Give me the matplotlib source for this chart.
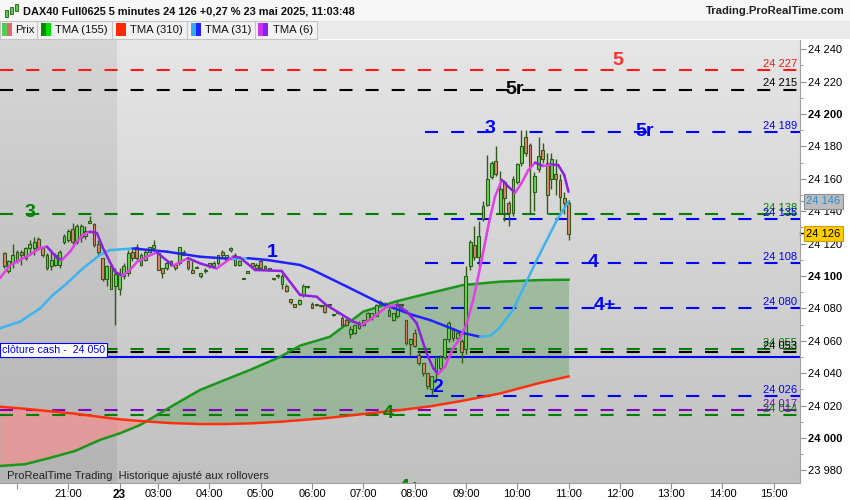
import numpy as np
import matplotlib.pyplot as plt
from matplotlib.patches import Rectangle
from matplotlib.collections import LineCollection
from matplotlib.colors import LinearSegmentedColormap
from matplotlib.transforms import blended_transform_factory

plt.rcParams['font.family'] = ['Liberation Sans', 'DejaVu Sans']
plt.rcParams['lines.scale_dashes'] = False

# 5 minute bars: 22 mai 19:45-21:55, then 23 mai from 02:15 to 11:00
opens = [24114, 24103, 24108, 24109, 24115, 24111, 24117, 24117, 24123, 24117,
         24113, 24106, 24107, 24107, 24121, 24122, 24129, 24121, 24124, 24125,
         24133, 24132, 24120, 24111, 24098, 24106, 24094,
         24092, 24100, 24102, 24115, 24118, 24107, 24110, 24115, 24117, 24114,
         24105, 24105, 24107, 24107, 24108, 24115, 24109, 24104, 24105, 24100,
         24103, 24108, 24106, 24108, 24115, 24110, 24116, 24113, 24107, 24098,
         24102, 24108, 24105, 24109, 24105, 24104, 24098, 24100, 24095, 24094,
         24086, 24083, 24083, 24088, 24093, 24083, 24082, 24081.5, 24082, 24082,
         24076, 24077, 24074, 24073, 24064, 24065, 24068, 24073, 24073, 24074,
         24075, 24083, 24083, 24079, 24073, 24075, 24082, 24073, 24058, 24065,
         24051, 24046, 24040, 24030, 24041, 24043, 24050, 24061, 24067, 24062,
         24060, 24055, 24106, 24119, 24112, 24135, 24144, 24161, 24171, 24139,
         24158, 24145, 24139, 24158, 24170, 24186, 24181, 24152, 24166, 24178,
         24170, 24160, 24163, 24159, 24148, 24145]
highs = [24115, 24110, 24120, 24116, 24116, 24118, 24122, 24124, 24124, 24118,
         24114, 24115, 24114, 24116, 24126, 24129, 24133, 24132, 24132, 24131,
         24137, 24133, 24122, 24111, 24107, 24108, 24105,
         24105, 24108, 24116, 24117, 24120, 24114, 24116, 24118, 24122, 24116,
         24105, 24110, 24110, 24108, 24118, 24116, 24110, 24109, 24106, 24102,
         24105, 24108, 24109, 24113, 24116, 24113, 24118, 24114, 24110, 24099,
         24103, 24108, 24108, 24110, 24107, 24105, 24098.5, 24101, 24101, 24095,
         24086, 24083, 24086, 24095, 24093.5, 24084, 24082.5, 24082, 24083, 24082.5,
         24076.5, 24077.5, 24075, 24074, 24069, 24070, 24072, 24073, 24078, 24077,
         24083, 24085, 24084, 24080, 24077, 24084, 24083, 24073, 24062, 24067,
         24054, 24046, 24040, 24038, 24050, 24051, 24061, 24072, 24068, 24066,
         24061, 24106, 24122, 24131, 24134, 24146, 24175, 24171, 24180, 24165,
         24159, 24146, 24162, 24170, 24190, 24190, 24182, 24164, 24186, 24182,
         24176, 24176, 24172, 24163, 24152, 24147]
lows = [24105, 24102, 24105, 24108, 24107, 24110, 24113, 24113, 24116, 24112,
        24104, 24104, 24106, 24105, 24120, 24121, 24120, 24120, 24121, 24123,
        24133, 24118, 24113, 24097, 24094, 24092, 24070,
        24088, 24098, 24100, 24109, 24110, 24106, 24109, 24114, 24116, 24104,
        24099, 24104, 24106, 24104, 24107, 24113, 24104, 24102, 24105, 24099,
        24102, 24105, 24105, 24107, 24112, 24109, 24115, 24106, 24106, 24098,
        24102, 24105, 24104, 24105, 24104, 24103, 24097.5, 24099, 24092, 24090,
        24083, 24081, 24082, 24087, 24092.5, 24080, 24081.5, 24081, 24077, 24081.5,
        24075.5, 24076.5, 24069, 24069, 24062, 24064, 24067, 24069, 24073, 24073,
        24075, 24082, 24081, 24075, 24072, 24074, 24081, 24057.5, 24051, 24056,
        24045, 24038, 24030, 24026.5, 24036, 24042, 24049, 24059, 24060, 24061,
        24046, 24052, 24104, 24110, 24106, 24134, 24143, 24160, 24162, 24138,
        24134, 24131, 24137, 24157, 24168, 24174, 24139, 24140, 24164, 24170,
        24138, 24154, 24150, 24140, 24138, 24122]
closes = [24106, 24109, 24113, 24115, 24113, 24117, 24120, 24121, 24117, 24113,
          24105, 24110, 24113, 24115, 24125, 24128, 24121, 24131, 24131, 24128,
          24134, 24119, 24115, 24098, 24106, 24092, 24101,
          24101, 24106, 24114, 24111, 24111, 24113, 24115, 24118, 24119, 24104,
          24102, 24108, 24109, 24105, 24118, 24113, 24105, 24102, 24105.5, 24102,
          24104, 24106, 24108, 24113, 24113, 24113, 24117, 24107, 24109, 24098.5,
          24102.5, 24106, 24107, 24105, 24106, 24104.5, 24098, 24100.5, 24100, 24091,
          24084, 24081, 24085, 24094, 24093, 24080, 24082, 24081.5, 24078, 24082,
          24076, 24077, 24070, 24070, 24067, 24070, 24071, 24070, 24077, 24077,
          24082, 24084, 24082, 24075, 24077, 24083, 24082.5, 24058.5, 24061, 24057,
          24046, 24040, 24032, 24038, 24050, 24050, 24061, 24071, 24062, 24065,
          24053, 24100, 24121, 24112, 24125, 24143, 24160, 24170, 24163, 24154,
          24148, 24139, 24160, 24169, 24180, 24176, 24168, 24162, 24174, 24172,
          24150, 24172, 24160, 24149, 24145, 24126]

# moving averages (bar index, price)
tma6_k = [-1, 1.4, 3.7, 6, 8.4, 10, 12.4, 13.5, 15.4, 17, 18.4, 20, 21.7, 23.1, 24.7,
          25.9, 27.6, 29.4, 31.1, 33.4, 35.7, 39.5, 43, 45.8, 49.7, 53.6, 55.2, 58.7,
          64.9, 69.2, 73.1, 75.4, 78.5, 81.7, 83.6, 86, 89.5, 91.8, 94.2, 96.5, 98.8,
          100.4, 101.5, 103.1, 105, 106.6, 108.2, 109.7, 111.7, 113.2, 114.8, 116.4,
          117.9, 119.5, 121, 122.6, 124.2, 126.1, 128.1, 129.6, 131, 132]
tma6 = [24098.6, 24106.8, 24109.9, 24113, 24117.3, 24118.1, 24111.1, 24109.9, 24115,
        24121.2, 24125.3, 24127.3, 24126.5, 24117.3, 24108.8, 24102.7, 24100.2, 24103.7,
        24108.8, 24111.9, 24114.6, 24106.4, 24111, 24107.8, 24104.7, 24112, 24111.3,
        24103.7, 24103.1, 24088.3, 24087.2, 24082, 24077, 24071.8, 24069.7, 24073.9,
        24081, 24082.1, 24078, 24070.8, 24052.3, 24043, 24039.5, 24044, 24055.4,
        24061.5, 24070.8, 24085.2, 24109.9, 24130.5, 24149, 24159.3, 24155.2, 24151.4,
        24157.2, 24165.4, 24170, 24167.9, 24168.9, 24168.5, 24162.4, 24152]

tma31_k = [-1, 3.7, 8.4, 11.4, 14.7, 18.4, 22.4, 24.7, 30.1, 38.1, 45.8, 53.5, 57,
           61.5, 69.2, 72.2, 80.2, 87.9, 95.6, 99.6, 103.6, 107.3, 111.3, 113.6, 115.9,
           119, 124.6, 129.3, 132]
tma31 = [24067.7, 24071.8, 24080, 24088.3, 24095.5, 24104.7, 24113, 24116, 24117,
         24115, 24111.9, 24110.5, 24111, 24109.9, 24106.8, 24103.7, 24093.4, 24083.3,
         24075.9, 24072.8, 24068.7, 24064.8, 24062.5, 24063, 24068, 24079, 24110,
         24134.6, 24146]

ma_k = [-1, 4.9, 10.7, 16.6, 22.4, 27.1, 31.8, 38.8, 45.8, 51.6, 57.5, 64.5, 69.2,
        76.2, 84, 91.9, 99.6, 107.3, 116, 125.3, 132]
tma155 = [23982.7, 23983.8, 23987.7, 23992, 23998.8, 24002.9, 24008, 24019, 24029.6,
          24035.8, 24042, 24050, 24057, 24062.5, 24078, 24084.5, 24089.5, 24094.4,
          24096.5, 24097.5, 24097.7]
tma310 = [24019.3, 24018, 24016.5, 24015, 24013, 24011.5, 24010.5, 24009.2, 24008.6,
          24008.6, 24009, 24010, 24011, 24012.5, 24014.8, 24017, 24019.5, 24023,
          24027.5, 24034, 24038]

# horizontal levels
levels = [24227, 24215, 24189, 24138, 24135, 24108, 24080, 24055, 24053, 24026, 24017, 24014]
level_colors = ['#ff1a1a', '#000000', '#0000ff', '#008000', '#0000ff', '#0000ff',
                '#0000ff', '#008000', '#000000', '#0000ff', '#8000c0', '#008000']
level_partial = [False, False, True, False, True, True, True, False, False, True, False, False]
cash_close = 24050

big_text = ['5', '5r', '3', '5r', '3', '1', '4', '4+', '2', '4', '4+']
big_colors = ['#ff3030', '#000000', '#0000ff', '#0000ff', '#008000', '#0000ff',
              '#0000ff', '#0000ff', '#0000ff', '#008000', '#008000']

tick_pos = [3, 15, 27, 36, 48, 60, 72, 84, 96, 108, 120, 132, 144, 156, 168, 180]
tick_labels = ['', '21:00', '23', '03:00', '04:00', '05:00', '06:00', '07:00', '08:00',
               '09:00', '10:00', '11:00', '12:00', '13:00', '14:00', '15:00']

W, H = 850, 500
fig = plt.figure(figsize=(W / 100, H / 100), dpi=100)
fig.patch.set_facecolor('white')
ax = fig.add_axes([0, 17 / H, 800 / W, 443 / H])

x0, x1 = -0.98, 186.15
y0, y1 = 23972.2, 24245.7
ax.set_xlim(x0, x1)
ax.set_ylim(y0, y1)

bg = LinearSegmentedColormap.from_list('bg', ['#c0c0c0', '#e6e6e6'])
ax.imshow(np.linspace(0, 1, 256).reshape(-1, 1), extent=[x0, x1, y0, y1],
          aspect='auto', origin='lower', cmap=bg, zorder=0)
ax.axvspan(x0, 26.5, color='black', alpha=0.065, lw=0, zorder=0.5)

# TMA 155 / 310 with fill
k = np.array(ma_k)
g = np.array(tma155)
r = np.array(tma310)
ax.fill_between(k, g, r, where=g >= r, interpolate=True, color='#6fa86f', alpha=0.5, lw=0, zorder=1)
ax.fill_between(k, g, r, where=g < r, interpolate=True, color='#ff8888', alpha=0.6, lw=0, zorder=1)

# levels
dash = (0, (9.4, 9.4))
for p, c, part in zip(levels, level_colors, level_partial):
    start = 98.4 if part else x0
    ax.plot([start, x1], [p, p], color=c, lw=1.5, ls=dash, zorder=2)
    ax.text(185.4, p + 0.8, f"{p // 1000} {p % 1000:03d}", color=c, fontsize=8,
            ha='right', va='bottom', zorder=7)
ax.axhline(cash_close, color='#0000ff', lw=1.5, zorder=2)

ax.plot(k, g, color='#1a961a', lw=1.8, zorder=3)
ax.plot(k, r, color='#ff3010', lw=1.8, zorder=3)

# candles
idx = np.arange(len(opens))
o = np.array(opens); c_ = np.array(closes)
ax.vlines(idx, lows, highs, color='#2d5a16', lw=1.0, zorder=4)
body_lo = np.minimum(o, c_)
body_h = np.maximum(np.abs(c_ - o), 0.8)
fills = ['#66d855' if cc >= oo else '#e8826e' for oo, cc in zip(o, c_)]
ax.bar(idx, body_h, bottom=body_lo, width=0.66, color=fills, edgecolor='#2d5a16',
       linewidth=0.8, zorder=5)


def slope_line(xs, ys, up, down):
    xs = np.asarray(xs, float)
    ys = np.asarray(ys, float)
    pts = np.column_stack([xs, ys])
    segs = np.stack([pts[:-1], pts[1:]], axis=1)
    cols = [up if b >= a else down for a, b in zip(ys[:-1], ys[1:])]
    ax.add_collection(LineCollection(segs, colors=cols, linewidths=1.8,
                                     capstyle='round', zorder=6))


slope_line(tma31_k, tma31, '#3cb4f0', '#2222ff')
slope_line(tma6_k, tma6, '#e040e8', '#9020e0')

# level names
big_pos = [(143.6, 24233), (119.5, 24215), (113.6, 24191), (149.9, 24189.5),
           (6.0, 24138.9), (62.6, 24114.8), (137.7, 24108.6), (140.5, 24082),
           (101.5, 24030.9), (89.8, 24014.8), (95.0, 23969.5)]
for s, col, (bx, by) in zip(big_text, big_colors, big_pos):
    ax.text(bx, by, s, color=col, fontsize=14, fontweight='bold', ha='center',
            va='center', zorder=8, clip_on=True)

ax.text(-0.55, 24054.3, 'clôture cash -  24 050', color='#0000ff', fontsize=7.7,
        ha='left', va='center', zorder=9,
        bbox=dict(boxstyle='square,pad=0.18', fc='white', ec='#0000ff', lw=0.8))
ax.text(0.0, 23976.8, ' ProRealTime Trading  Historique ajusté aux rollovers',
        color='#222222', fontsize=8, ha='left', va='center', zorder=9)

# axes
for sp in ['top', 'left']:
    ax.spines[sp].set_visible(False)
for sp in ['right', 'bottom']:
    ax.spines[sp].set_color('#a0a0a0')
ax.yaxis.tick_right()
yt = list(range(23980, 24241, 20))
ax.set_yticks(yt)
ax.set_yticklabels([f"{v // 1000} {v % 1000:03d}" for v in yt])
ax.set_yticks(list(range(23980, 24241, 10)), minor=True)
for lab, v in zip(ax.get_yticklabels(), yt):
    if v % 100 == 0:
        lab.set_fontweight('bold')
        lab.set_fontsize(8.5)
ax.tick_params(axis='y', which='major', length=4, pad=2, labelsize=8, color='#909090')
ax.tick_params(axis='y', which='minor', length=2.5, color='#909090')
ax.set_xticks(tick_pos)
ax.set_xticklabels(tick_labels)
ax.tick_params(axis='x', length=4, pad=0.5, labelsize=8, color='#909090')
for lab in ax.get_xticklabels():
    if lab.get_text() == '23':
        lab.set_fontweight('bold')
        lab.set_fontsize(8.5)

tr = blended_transform_factory(ax.transAxes, ax.transData)
ax.plot([1.0, 1.008], [24146, 24146], color='#40b0f0', lw=1, transform=tr, clip_on=False)
ax.plot([1.0, 1.008], [24126.6, 24126.6], color='black', lw=1, transform=tr, clip_on=False)
ax.text(1.0075, 24146, '24 146', transform=tr, fontsize=8, color='#2a88d0', ha='left',
        va='center', zorder=10, clip_on=False,
        bbox=dict(boxstyle='square,pad=0.22', fc='#bdbdbd', ec='#8c8c8c', lw=0.8))
ax.text(1.0075, 24126, '24 126', transform=tr, fontsize=8, color='black', ha='left',
        va='center', zorder=10, clip_on=False,
        bbox=dict(boxstyle='square,pad=0.22', fc='#ffcc00', ec='#c9a000', lw=0.8))


# header and legend strip
def fig_rect(x, y, w, h, **kw):
    fig.add_artist(Rectangle((x / W, 1 - (y + h) / H), w / W, h / H,
                             transform=fig.transFigure, **kw))


fig_rect(0, 0, W, 21, fc='#f7f7f7', ec='none')
fig_rect(0, 21, W, 18, fc='#eaeaea', ec='none')
for bx, bw in [(0, 37), (37, 75), (112, 75), (187, 68), (255, 62)]:
    fig_rect(bx, 21, bw, 18, fc='#f2f2f2', ec='#c4c4c4', lw=0.8)
swatches = [(2, '#55cc55', '#e06a6a'), (41, '#008c00', '#00dd00'),
            (116, '#ff2a00', '#ff2a00'), (191, '#33aaee', '#2222ff'),
            (258, '#cc33ee', '#8822ee')]
for sx, ca, cb in swatches:
    fig_rect(sx, 23, 5, 13, fc=ca, ec='none')
    fig_rect(sx + 5, 23, 5, 13, fc=cb, ec='none')
for tx, t in [(15, 'Prix'), (55, 'TMA (155)'), (130, 'TMA (310)'), (205, 'TMA (31)'),
              (273, 'TMA (6)')]:
    fig.text(tx / W, 1 - 30 / H, t, fontsize=8.1, ha='left', va='center', color='#111111')

for cx, top, bot in [(6, 10, 17), (11, 7, 14), (16, 4, 11)]:
    fig_rect(cx - 1.5, top, 3, bot - top, fc='#55cc55', ec='#2d5a16', lw=0.6)
fig.text(23 / W, 1 - 11.5 / H, 'DAX40 Full0625 5 minutes 24 126 +0,27 % 23 mai 2025, 11:03:48',
         fontsize=7.9, fontweight='bold', ha='left', va='center', color='#111111')
fig.text(845 / W, 1 - 11.5 / H, 'Trading.ProRealTime.com', fontsize=8.1,
         fontweight='bold', ha='right', va='center', color='#222222')

fig.savefig('out.png', dpi=100)
